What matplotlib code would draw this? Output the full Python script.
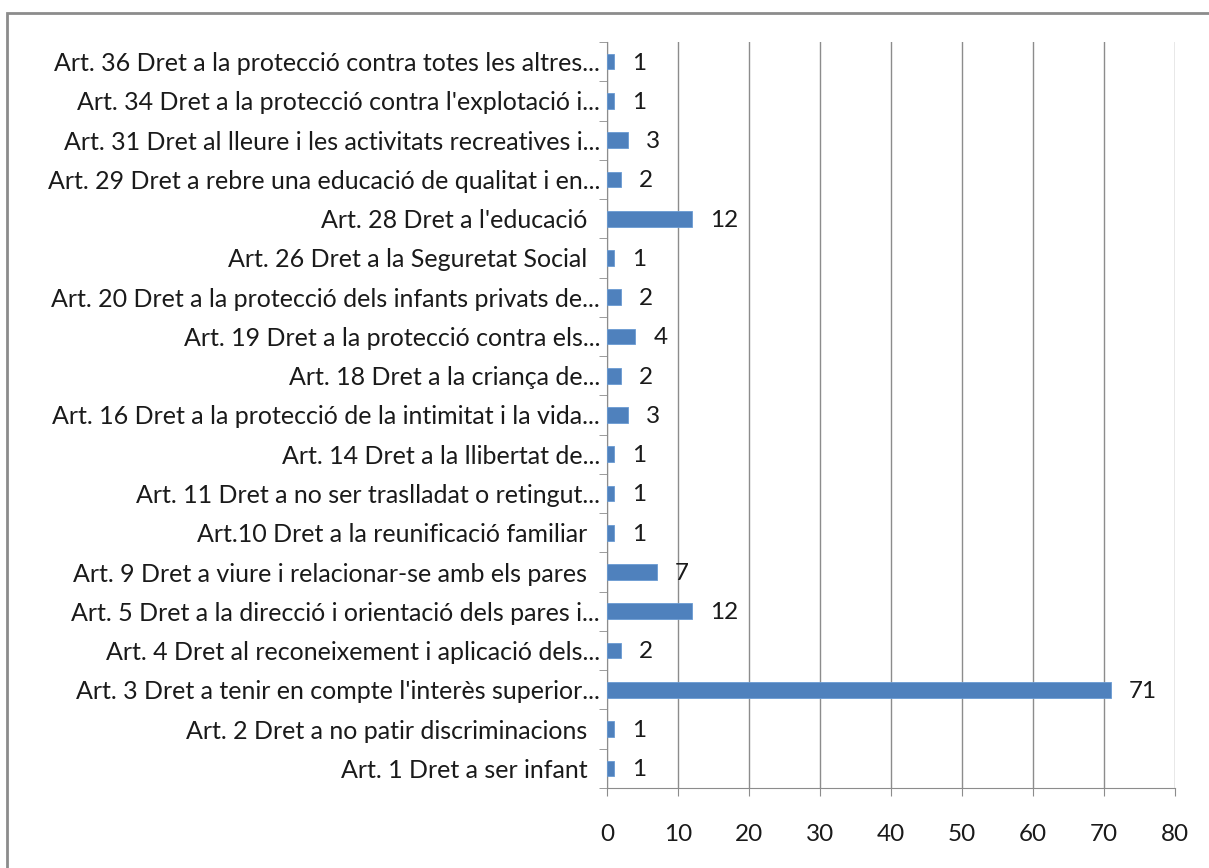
import matplotlib.pyplot as plt
import numpy as np
from matplotlib.patches import Rectangle

# categories from bottom to top
articles = [
    "Art. 1 Dret a ser infant  ",
    "Art. 2 Dret a no patir discriminacions  ",
    "Art. 3 Dret a tenir en compte l'interès superior...",
    "Art. 4 Dret al reconeixement i aplicació dels...",
    "Art. 5 Dret a la direcció i orientació dels pares i...",
    "Art. 9 Dret a viure i relacionar-se amb els pares  ",
    "Art.10 Dret a la reunificació familiar  ",
    "Art. 11 Dret a no ser traslladat o retingut...",
    "Art. 14 Dret a la llibertat de...",
    "Art. 16 Dret a la protecció de la intimitat i la vida...",
    "Art. 18 Dret a la criança de...",
    "Art. 19 Dret a la protecció contra els...",
    "Art. 20 Dret a la protecció dels infants privats de...",
    "Art. 26 Dret a la Seguretat Social  ",
    "Art. 28 Dret a l'educació  ",
    "Art. 29 Dret a rebre una educació de qualitat i en...",
    "Art. 31 Dret al lleure i les activitats recreatives i...",
    "Art. 34 Dret a la protecció contra l'explotació i...",
    "Art. 36 Dret a la protecció contra totes les altres...",
]
counts = [1, 1, 71, 2, 12, 7, 1, 1, 1, 3, 2, 4, 2, 1, 12, 2, 3, 1, 1]
xticks = [0, 10, 20, 30, 40, 50, 60, 70, 80]

plt.rcParams['font.family'] = ['Lato', 'DejaVu Sans']
grey = '#8c8c8c'
txt = '#1a1a1a'

fig = plt.figure(figsize=(12.09, 8.68), dpi=100)
ax = fig.add_axes([607/1209, 1-788/868, (1175-607)/1209, (788-42)/868])

y = np.arange(len(articles))
ax.barh(y, counts, height=0.4, color='#4F81BD', edgecolor='#6a9bd3', linewidth=0.6, zorder=3)
for yi, v in zip(y, counts):
    ax.annotate(str(v), (v, yi), xytext=(13, -1), textcoords='offset points',
                va='center', ha='left', fontsize=17.5, color=txt)

ax.set_xlim(0, 80)
ax.set_ylim(-0.5, len(articles) - 0.5)
ax.set_xticks(xticks)
ax.set_yticks(y)
ax.set_yticklabels(articles, fontsize=18, color=txt)
ax.set_yticks(np.arange(-0.5, len(articles), 1), minor=True)
ax.tick_params(axis='y', which='major', length=0, pad=5)
ax.tick_params(axis='y', which='minor', length=6, color=grey)
ax.tick_params(axis='x', length=6, color=grey, labelsize=17.5, labelcolor=txt, pad=20)
ax.grid(axis='x', color=grey, linewidth=1, zorder=0)
for s in ['top', 'right']:
    ax.spines[s].set_visible(False)
ax.spines['left'].set_color(grey)
ax.spines['bottom'].set_color(grey)

# outer chart border
fig.patches.append(Rectangle((7/1209, -0.05), 1.1, 1-13/868+0.05, transform=fig.transFigure,
                             fill=False, edgecolor='#8c8c8c', linewidth=2))

fig.savefig('out.png', dpi=100)
